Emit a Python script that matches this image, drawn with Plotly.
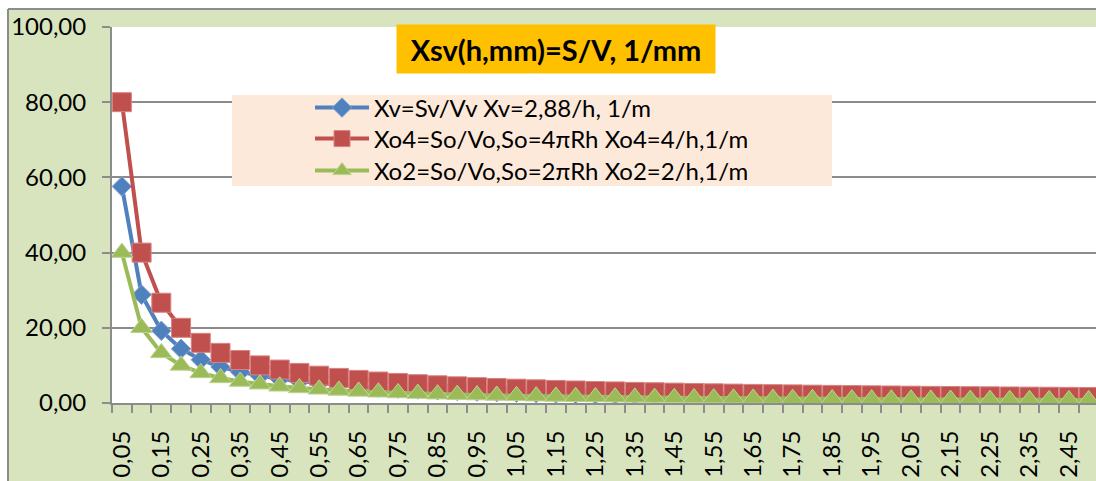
import plotly.graph_objects as go

# Layer thickness h, mm
h = [0.05, 0.10, 0.15, 0.20, 0.25, 0.30, 0.35, 0.40, 0.45, 0.50,
     0.55, 0.60, 0.65, 0.70, 0.75, 0.80, 0.85, 0.90, 0.95, 1.00,
     1.05, 1.10, 1.15, 1.20, 1.25, 1.30, 1.35, 1.40, 1.45, 1.50,
     1.55, 1.60, 1.65, 1.70, 1.75, 1.80, 1.85, 1.90, 1.95, 2.00,
     2.05, 2.10, 2.15, 2.20, 2.25, 2.30, 2.35, 2.40, 2.45, 2.50]

xv = [57.60, 28.80, 19.20, 14.40, 11.52, 9.60, 8.23, 7.20, 6.40, 5.76,
      5.24, 4.80, 4.43, 4.11, 3.84, 3.60, 3.39, 3.20, 3.03, 2.88,
      2.74, 2.62, 2.50, 2.40, 2.30, 2.22, 2.13, 2.06, 1.99, 1.92,
      1.86, 1.80, 1.75, 1.69, 1.65, 1.60, 1.56, 1.52, 1.48, 1.44,
      1.40, 1.37, 1.34, 1.31, 1.28, 1.25, 1.23, 1.20, 1.18, 1.15]

xo4 = [80.00, 40.00, 26.67, 20.00, 16.00, 13.33, 11.43, 10.00, 8.89, 8.00,
       7.27, 6.67, 6.15, 5.71, 5.33, 5.00, 4.71, 4.44, 4.21, 4.00,
       3.81, 3.64, 3.48, 3.33, 3.20, 3.08, 2.96, 2.86, 2.76, 2.67,
       2.58, 2.50, 2.42, 2.35, 2.29, 2.22, 2.16, 2.11, 2.05, 2.00,
       1.95, 1.90, 1.86, 1.82, 1.78, 1.74, 1.70, 1.67, 1.63, 1.60]

xo2 = [40.00, 20.00, 13.33, 10.00, 8.00, 6.67, 5.71, 5.00, 4.44, 4.00,
       3.64, 3.33, 3.08, 2.86, 2.67, 2.50, 2.35, 2.22, 2.11, 2.00,
       1.90, 1.82, 1.74, 1.67, 1.60, 1.54, 1.48, 1.43, 1.38, 1.33,
       1.29, 1.25, 1.21, 1.18, 1.14, 1.11, 1.08, 1.05, 1.03, 1.00,
       0.98, 0.95, 0.93, 0.91, 0.89, 0.87, 0.85, 0.83, 0.82, 0.80]

# Every other category carries a label
x_tickvals = h[::2]
x_ticktext = ["0,05", "0,15", "0,25", "0,35", "0,45", "0,55", "0,65", "0,75",
              "0,85", "0,95", "1,05", "1,15", "1,25", "1,35", "1,45", "1,55",
              "1,65", "1,75", "1,85", "1,95", "2,05", "2,15", "2,25", "2,35", "2,45"]

names = ["Xv=Sv/Vv Xv=2,88/h, 1/m",
         "Xo4=So/Vo,So=4πRh Xo4=4/h,1/m",
         "Xo2=So/Vo,So=2πRh Xo2=2/h,1/m"]

FONT = "Lato"
GREEN_BG = "#d7e4bd"
FRAME = "#8c8c8c"

# Plot-area geometry in pixels
W, H = 1096, 481
L, R, T, B = 112, 0, 27, 78
PW, PH = W - L - R, H - T - B


def px(xp):
    return (xp - L) / PW


def py(yp):
    return (H - B - yp) / PH


fig = go.Figure()

fig.add_trace(go.Scatter(
    x=h, y=xv, name=names[0], mode="lines+markers", legend="legend",
    line=dict(color="#4f81bd", width=4),
    marker=dict(symbol="diamond", size=15, color="#4f81bd",
                line=dict(color="#7fa3d3", width=1)),
))
fig.add_trace(go.Scatter(
    x=h, y=xo4, name=names[1], mode="lines+markers", legend="legend2",
    line=dict(color="#c0504d", width=4),
    marker=dict(symbol="square", size=19, color="#c0504d",
                line=dict(color="#d98381", width=1)),
))
fig.add_trace(go.Scatter(
    x=h, y=xo2, name=names[2], mode="lines+markers", legend="legend3",
    line=dict(color="#9bbb59", width=4),
    marker=dict(symbol="triangle-up", size=19, color="#9bbb59",
                line=dict(color="#bcd38f", width=1)),
))

shapes = [
    # white surround outside the chart frame
    dict(type="rect", xref="paper", yref="paper",
         x0=px(-10), x1=px(8), y0=py(H + 10), y1=py(-10),
         fillcolor="white", line=dict(width=0), layer="below"),
    dict(type="rect", xref="paper", yref="paper",
         x0=px(-10), x1=px(W + 10), y0=py(9), y1=py(-10),
         fillcolor="white", line=dict(width=0), layer="below"),
    # chart frame edges
    dict(type="line", xref="paper", yref="paper",
         x0=px(8), x1=px(8), y0=py(9), y1=py(H + 10),
         line=dict(color=FRAME, width=2)),
    dict(type="line", xref="paper", yref="paper",
         x0=px(8), x1=px(W + 10), y0=py(9), y1=py(9),
         line=dict(color=FRAME, width=2)),
    # legend panel
    dict(type="rect", xref="paper", yref="paper",
         x0=px(232), x1=px(832), y0=py(186), y1=py(95),
         fillcolor="#fde9d9", line=dict(width=0), layer="above"),
]


def legend_row(y_center):
    return dict(
        x=px(310), y=py(y_center), xanchor="left", yanchor="middle",
        bgcolor="rgba(0,0,0,0)", borderwidth=0,
        font=dict(family=FONT, size=24, color="black"),
        itemwidth=54,
    )


fig.update_layout(
    width=W, height=H,
    margin=dict(l=L, r=R, t=T, b=B, pad=0),
    paper_bgcolor=GREEN_BG,
    plot_bgcolor="white",
    separators=", ",
    font=dict(family=FONT, size=24, color="black"),
    showlegend=True,
    legend=legend_row(108),
    legend2=legend_row(139),
    legend3=legend_row(171),
    shapes=shapes,
    annotations=[dict(
        text="<b>Xsv(h,mm)=S/V, 1/mm</b>",
        xref="paper", yref="paper",
        x=px(556), y=py(49), xanchor="center", yanchor="middle",
        showarrow=False, bgcolor="#ffc000",
        font=dict(family=FONT, size=29, color="black"),
        width=310, height=40, borderpad=4,
    )],
)

fig.update_xaxes(
    type="linear",
    range=[0.025, 0.025 + PW / 19.73 * 0.05],
    tickmode="array", tickvals=x_tickvals, ticktext=x_ticktext,
    tickangle=-90,
    ticks="outside", ticklen=8, tickcolor="rgba(0,0,0,0)",
    ticklabelstandoff=8,
    minor=dict(ticks="outside", ticklen=8, tick0=0.025, dtick=0.05,
               tickcolor=FRAME, tickwidth=2, showgrid=False),
    showgrid=False, zeroline=False,
    showline=True, linecolor=FRAME, linewidth=2,
    tickfont=dict(family=FONT, size=24, color="black"),
)

fig.update_yaxes(
    range=[0, 100], tickmode="linear", tick0=0, dtick=20,
    tickformat=".2f",
    ticks="outside", ticklen=8, tickcolor=FRAME, tickwidth=2,
    ticklabelstandoff=11,
    showgrid=True, gridcolor=FRAME, gridwidth=2,
    zeroline=False,
    showline=True, linecolor=FRAME, linewidth=2,
    tickfont=dict(family=FONT, size=24, color="black"),
)

fig.write_html("out.html")
